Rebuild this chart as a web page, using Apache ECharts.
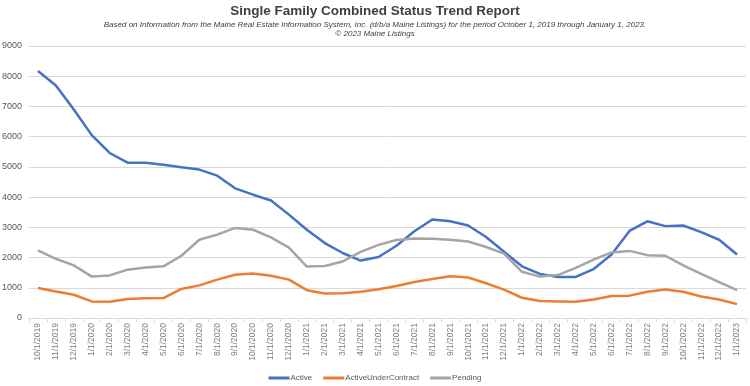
<!DOCTYPE html>
<html><head><meta charset="utf-8">
<script src="https://cdn.jsdelivr.net/npm/echarts@6/dist/echarts.min.js"></script>
<style>html,body{margin:0;padding:0;background:#fff}#c{width:750px;height:386px}</style>
</head><body><div id="c"></div>
<script>
const categories = ["10/1/2019","11/1/2019","12/1/2019","1/1/2020","2/1/2020","3/1/2020","4/1/2020","5/1/2020","6/1/2020","7/1/2020","8/1/2020","9/1/2020","10/1/2020","11/1/2020","12/1/2020","1/1/2021","2/1/2021","3/1/2021","4/1/2021","5/1/2021","6/1/2021","7/1/2021","8/1/2021","9/1/2021","10/1/2021","11/1/2021","12/1/2021","1/1/2022","2/1/2022","3/1/2022","4/1/2022","5/1/2022","6/1/2022","7/1/2022","8/1/2022","9/1/2022","10/1/2022","11/1/2022","12/1/2022","1/1/2023"];
const active = [8170,7690,6900,6050,5460,5140,5140,5070,4990,4910,4710,4290,4080,3890,3420,2920,2480,2150,1900,2020,2390,2870,3260,3200,3060,2680,2190,1710,1460,1360,1360,1620,2100,2880,3200,3040,3060,2840,2590,2100];
const activeUnderContract = [990,880,770,550,540,630,650,660,960,1080,1270,1430,1470,1400,1270,920,810,820,870,950,1060,1190,1290,1380,1340,1150,940,670,560,550,540,610,730,740,870,940,870,710,610,460];
const pending = [2240,1960,1740,1370,1410,1600,1670,1710,2060,2590,2760,2980,2920,2670,2330,1700,1720,1870,2190,2420,2580,2630,2620,2590,2530,2350,2130,1530,1370,1420,1660,1930,2170,2220,2080,2060,1740,1460,1190,920];
const yTicks = {min:0,max:9000,interval:1000};

const chart = echarts.init(document.getElementById('c'), null, {renderer:'canvas'});
const mk = (name, data, color) => ({name, type:'line', data, symbol:'none', smooth:false,
  lineStyle:{color, width:2.5}, itemStyle:{color}});
chart.setOption({
  animation:false,
  title:{text:'Single Family Combined Status Trend Report', left:'center', top:-1, itemGap:2,
    textStyle:{fontFamily:'Liberation Sans', fontSize:13.5, fontWeight:'bold', color:'#404040'},
    subtext:'Based on Information from the Maine Real Estate Information System, Inc. (d/b/a Maine Listings) for the period October 1, 2019 through January 1, 2023.\n© 2023 Maine Listings',
    subtextStyle:{fontFamily:'Liberation Sans', fontSize:8, fontStyle:'italic', color:'#404040', lineHeight:9.5, align:'center'}},
  grid:{left:29, right:4, top:46, bottom:68, containLabel:false, outerBoundsMode:'none'},
  legend:{bottom:-1, left:'center', itemWidth:21, itemHeight:3, itemGap:11,
    icon:'rect', textStyle:{fontFamily:'Liberation Sans', fontSize:8, color:'#595959', padding:[0,0,0,-4]},
    data:['Active','ActiveUnderContract','Pending']},
  xAxis:{type:'category', data:categories, boundaryGap:true,
    axisLine:{lineStyle:{color:'#d9d9d9'}},
    axisTick:{show:true, length:4, lineStyle:{color:'#d9d9d9'}},
    axisLabel:{rotate:90, interval:0, fontFamily:'Liberation Sans', fontSize:8.5, color:'#7f7f7f', margin:5}},
  yAxis:{type:'value', min:yTicks.min, max:yTicks.max, interval:yTicks.interval,
    axisLine:{show:false}, axisTick:{show:false},
    splitLine:{lineStyle:{color:'#d9d9d9', width:1}},
    axisLabel:{fontFamily:'Liberation Sans', fontSize:9, color:'#595959', margin:7, formatter:v=>String(v)}},
  series:[mk('Active',active,'#4472C4'), mk('ActiveUnderContract',activeUnderContract,'#ED7D31'), mk('Pending',pending,'#A5A5A5')]
});
</script></body></html>
